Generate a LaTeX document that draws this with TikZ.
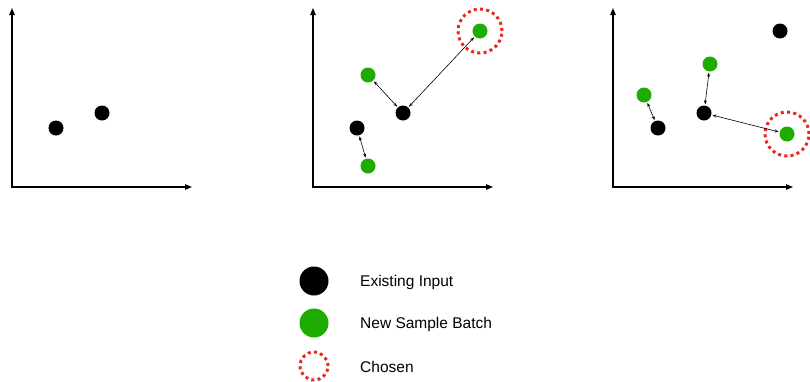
\documentclass[tikz,border=0pt]{standalone}
\usepackage{fontspec}
\setmainfont{Liberation Sans}
\usetikzlibrary{arrows.meta}
\definecolor{sampgreen}{RGB}{30,172,0}
\definecolor{chosenred}{RGB}{232,40,30}
\tikzset{
  axis/.style={line width=1.1pt, {Triangle[length=7pt,width=5.5pt]}-{Triangle[length=7pt,width=5.5pt]}},
  existing/.style={circle, fill=black, inner sep=0pt, minimum size=15pt},
  sample/.style={circle, fill=sampgreen, inner sep=0pt, minimum size=15pt},
  chosenring/.style={circle, draw=chosenred, line width=3pt, dash pattern=on 3pt off 3.3pt, inner sep=0pt, minimum size=44pt},
  link/.style={line width=0.6pt, {Stealth[length=4pt,width=3pt]}-{Stealth[length=4pt,width=3pt]}, shorten <=1pt, shorten >=1pt},
  legendtext/.style={anchor=west, inner sep=0pt, font=\fontsize{15.5}{18}\selectfont}
}
\begin{document}
\begin{tikzpicture}[x=1pt,y=-1pt]
\useasboundingbox (0,0) rectangle (810,381);

% first plot: existing inputs only
\coordinate (t1) at (12,8);
\coordinate (o1) at (12,187);
\coordinate (r1) at (192,187);
\draw[axis] (t1) -- (o1) -- (r1);
\node[existing] (a1) at (56,128) {};
\node[existing] (b1) at (102,113) {};

% second plot: a batch of new samples, the farthest one picked
\coordinate (t2) at (313,8);
\coordinate (o2) at (313,187);
\coordinate (r2) at (493,187);
\draw[axis] (t2) -- (o2) -- (r2);
\node[existing] (a2) at (357,128) {};
\node[existing] (b2) at (403,113) {};
\node[sample] (g21) at (368,75) {};
\node[sample] (g22) at (368,166) {};
\node[sample] (g23) at (480,31) {};
\node[chosenring] (c2) at (480,31) {};
\draw[link] (a2) -- (g22);
\draw[link] (b2) -- (g21);
\draw[link] (b2) -- (g23);

% third plot: the picked sample joins the inputs, next batch compared
\coordinate (t3) at (613,8);
\coordinate (o3) at (613,187);
\coordinate (r3) at (793,187);
\draw[axis] (t3) -- (o3) -- (r3);
\node[existing] (a3) at (658,128) {};
\node[existing] (b3) at (704,113) {};
\node[existing] (d3) at (780,31) {};
\node[sample] (g31) at (644,95) {};
\node[sample] (g32) at (710,64) {};
\node[sample] (g33) at (787,134) {};
\node[chosenring] (c3) at (787,134) {};
\draw[link] (g31) -- (a3);
\draw[link] (b3) -- (g32);
\draw[link] (b3) -- (g33);

% legend
\node[existing, minimum size=29pt] (le) at (314,281) {};
\node[sample, minimum size=29pt] (ls) at (314,323) {};
\node[chosenring, minimum size=28pt] (lc) at (314,366) {};
\node[legendtext] (te) at (360,282) {Existing Input};
\node[legendtext] (ts) at (360,324) {New Sample Batch};
\node[legendtext] (tc) at (360,367) {Chosen};
\end{tikzpicture}
\end{document}
